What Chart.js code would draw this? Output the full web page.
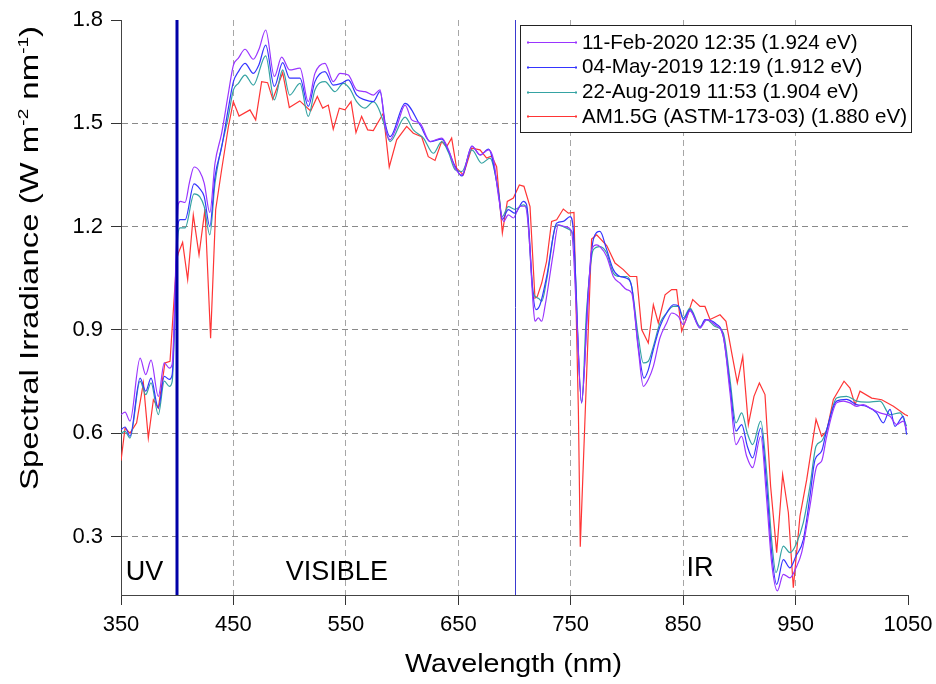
<!DOCTYPE html>
<html>
<head>
<meta charset="utf-8">
<script src="https://cdn.jsdelivr.net/npm/chart.js@4/dist/chart.umd.min.js"></script>
<style>
  html, body { margin: 0; padding: 0; background: #fff; }
  #wrap { width: 936px; height: 684px; }
</style>
</head>
<body>
<div id="wrap"><canvas id="c" width="936" height="684"></canvas></div>
<script>
const seriesLabels = [
  '11-Feb-2020 12:35 (1.924 eV)',
  '04-May-2019 12:19 (1.912 eV)',
  '22-Aug-2019 11:53 (1.904 eV)',
  'AM1.5G (ASTM-173-03) (1.880 eV)'
];
const seriesColors = ['#9a35ff', '#3535ff', '#35a3a3', '#ff3535'];

const xTicks = [350, 450, 550, 650, 750, 850, 950, 1050];
const yTicks = [0.3, 0.6, 0.9, 1.2, 1.5, 1.8];

// 11-Feb-2020
const febNm = [350, 353.6, 358, 367, 372, 376.7, 383.2, 388.5, 393, 395.5, 401, 403, 407, 411, 415, 420, 424, 429, 433.6, 439.5,
  445.5, 450, 454.4, 460.3, 467.7, 472.7, 478.7, 486.4, 492.9, 500, 509.2, 516.6, 522.5, 531.4, 538.8, 544.8, 552.2, 559.6, 567, 574.5,
  580.4, 584.9, 589.3, 595.3, 602.7, 608.6, 616, 624.9, 635.3, 641.3, 647.2, 653.2, 662.1, 669.5, 676.9, 681.4, 685.8, 690.3, 694.5, 699,
  704.9, 709.3, 712.3, 716.7, 718.2, 721.2, 724.2, 727.1, 734.5, 739, 744.9, 750.8, 755.3, 759.7, 764.2, 768.6, 773.1, 776, 782, 787.9,
  793.8, 799.8, 804.2, 810.1, 814.6, 819, 823.5, 829.4, 835.3, 839.8, 845.7, 850.2, 856.1, 865, 871, 878.3, 885.7, 891.7, 897, 902,
  906.5, 911.8, 919, 924.3, 928.7, 933.8, 939.1, 945, 950.4, 955.4, 962.8, 968.8, 973.2, 977.7, 986.5, 992.5, 998.4, 1004.3, 1010.3, 1017.7,
  1025.1, 1034, 1039.9, 1045.8, 1048.8];
const febVal = [0.654, 0.661, 0.635, 0.818, 0.77, 0.812, 0.707, 0.804, 0.789, 0.80, 1.265, 1.273, 1.27, 1.33, 1.373, 1.36, 1.326, 1.241, 1.384, 1.471,
  1.587, 1.669, 1.689, 1.715, 1.686, 1.715, 1.771, 1.636, 1.692, 1.655, 1.66, 1.563, 1.645, 1.674, 1.621, 1.645, 1.64, 1.597, 1.592, 1.582,
  1.597, 1.491, 1.452, 1.491, 1.553, 1.51, 1.5, 1.447, 1.457, 1.423, 1.37, 1.35, 1.433, 1.408, 1.423, 1.394, 1.287, 1.215, 1.234, 1.225,
  1.259, 1.259, 1.2, 0.968, 0.925, 0.935, 0.925, 0.968, 1.123, 1.205, 1.2, 1.186, 0.939, 0.688, 0.91, 1.133, 1.147, 1.142, 1.113, 1.055,
  1.036, 1.017, 1.007, 0.843, 0.736, 0.756, 0.794, 0.877, 0.92, 0.949, 0.939, 0.915, 0.955, 0.906, 0.93, 0.915, 0.881, 0.717, 0.567, 0.591,
  0.533, 0.5, 0.591, 0.407, 0.224, 0.142, 0.19, 0.18, 0.209, 0.253, 0.388, 0.504, 0.519, 0.591, 0.688, 0.693, 0.688, 0.678, 0.683, 0.67,
  0.659, 0.649, 0.625, 0.635, 0.61];

// 04-May-2019
const mayNm = [350, 353.6, 358, 367, 372, 376.7, 383.2, 388.5, 393, 395.5, 400.5, 402.5, 407, 415, 420, 424, 429, 433.6, 439.5, 445.5,
  450, 454.4, 460.3, 467.7, 472.7, 478.7, 486.4, 493.8, 500, 509.2, 516.6, 522.5, 531.4, 538.8, 546, 552.2, 559.6, 567, 574.5, 580.4,
  585, 589.3, 602.7, 616, 624.9, 635.3, 641.3, 647.2, 653.2, 662.1, 669.5, 676.9, 685.8, 689, 694.5, 700.4, 707.9, 710.8, 716.7, 719.1,
  722.7, 728.6, 737.5, 743.4, 749.4, 752.3, 759.7, 765.7, 770.1, 776, 782, 787.9, 793.8, 799.8, 804.2, 810.1, 815.2, 819, 823.5, 829.4,
  835.3, 841.3, 845.7, 850.2, 856.1, 865, 869.4, 878.3, 885.7, 891.7, 897, 902.1, 907.1, 911.8, 919, 924.3, 928.7, 933.2, 939.1, 945,
  950.4, 956.9, 962.8, 967.3, 973.2, 977.7, 986.5, 995.4, 1004.3, 1013.2, 1022.1, 1028, 1034, 1038.4, 1045.8, 1048.8];
const mayVal = [0.61, 0.618, 0.591, 0.76, 0.722, 0.76, 0.673, 0.765, 0.756, 0.77, 1.2, 1.22, 1.22, 1.324, 1.31, 1.287, 1.2, 1.345, 1.43, 1.544,
  1.621, 1.65, 1.674, 1.645, 1.67, 1.727, 1.607, 1.676, 1.631, 1.631, 1.549, 1.621, 1.65, 1.611, 1.616, 1.626, 1.582, 1.568, 1.563, 1.592,
  1.5, 1.461, 1.558, 1.495, 1.447, 1.454, 1.42, 1.375, 1.347, 1.434, 1.408, 1.425, 1.296, 1.22, 1.249, 1.239, 1.273, 1.263, 0.997, 0.959,
  0.973, 1.055, 1.21, 1.215, 1.229, 1.19, 0.688, 1.017, 1.162, 1.186, 1.133, 1.075, 1.055, 1.05, 1.026, 0.852, 0.76, 0.784, 0.843, 0.91,
  0.949, 0.973, 0.97, 0.93, 0.959, 0.906, 0.93, 0.92, 0.881, 0.736, 0.606, 0.625, 0.562, 0.528, 0.615, 0.446, 0.253, 0.161, 0.233, 0.209,
  0.243, 0.291, 0.417, 0.523, 0.548, 0.61, 0.693, 0.698, 0.683, 0.678, 0.659, 0.63, 0.669, 0.62, 0.649, 0.596];

// 22-Aug-2019
const augNm = [350, 353.6, 358, 367, 372, 376.7, 383.2, 388.5, 393, 395.5, 400.5, 402.5, 407, 415, 420, 424, 429, 433.6, 445.5, 450,
  454.4, 460.3, 467.7, 478.7, 486.4, 493.8, 500, 509.2, 516.6, 522.5, 531.4, 540.3, 547.7, 553.6, 559.6, 567, 574.5, 579, 583.3, 589.3,
  602.7, 610, 619, 627.8, 635.3, 641.3, 647.2, 653.2, 662.1, 670.8, 678.2, 685.8, 689, 694.5, 700.4, 707.9, 710.8, 716.7, 721.2, 724.2,
  728.6, 737.5, 743.4, 749.4, 752.3, 759.7, 764, 770.1, 776, 782, 787.9, 793.8, 799.8, 804.2, 810.1, 814.6, 819, 823.5, 829.4, 835.3,
  841.3, 845.7, 850.2, 856.1, 865, 870.9, 878.3, 885.7, 891.7, 897, 902.1, 907.1, 911.8, 919, 924.3, 928.7, 932.6, 939.1, 945, 950.4,
  956.9, 962.8, 968.2, 973.2, 977.7, 986.5, 995.4, 1004.3, 1013.2, 1025.1, 1034, 1042.9, 1048.8];
const augVal = [0.6, 0.605, 0.586, 0.751, 0.712, 0.746, 0.654, 0.751, 0.736, 0.75, 1.17, 1.196, 1.196, 1.295, 1.287, 1.258, 1.176, 1.326, 1.52, 1.597,
  1.616, 1.64, 1.611, 1.696, 1.568, 1.655, 1.582, 1.616, 1.52, 1.597, 1.621, 1.592, 1.616, 1.6, 1.563, 1.544, 1.563, 1.544, 1.505, 1.447,
  1.518, 1.481, 1.457, 1.413, 1.447, 1.415, 1.365, 1.36, 1.423, 1.384, 1.399, 1.3, 1.229, 1.258, 1.25, 1.263, 1.254, 1.007, 0.992, 0.983,
  1.045, 1.205, 1.2, 1.19, 1.17, 0.688, 0.95, 1.133, 1.142, 1.123, 1.065, 1.055, 1.055, 1.026, 0.881, 0.804, 0.809, 0.852, 0.92, 0.949,
  0.968, 0.968, 0.935, 0.963, 0.91, 0.93, 0.91, 0.891, 0.755, 0.63, 0.659, 0.6, 0.567, 0.635, 0.485, 0.291, 0.195, 0.272, 0.253, 0.277,
  0.34, 0.446, 0.562, 0.577, 0.61, 0.702, 0.707, 0.693, 0.69, 0.693, 0.654, 0.659, 0.62];

// AM1.5G reference spectrum
const astmNm = [350, 353.6, 358, 363.9, 369.9, 374.3, 378.8, 383.2, 389.1, 393.6, 399.5, 401, 404.8, 409.3, 414.3, 419.4, 424.7, 429.7, 434.2, 439.5,
  445.5, 449.9, 455, 464.7, 469.8, 475.1, 480.4, 485, 493.8, 499.7, 509, 518.7, 524.6, 529.4, 534.4, 538.8, 544.2, 549.2, 554.6, 559,
  564, 569.4, 574.4, 583.3, 588.6, 595.2, 604.1, 610, 617.4, 623.3, 629.3, 635.2, 639.6, 644.1, 648.5, 654.5, 661.9, 669.3, 675.2, 679.7,
  684.1, 689.2, 693.6, 699, 704.3, 708.4, 713.8, 718.2, 720.3, 724.2, 728.6, 733, 737.5, 743.4, 747.9, 752.9, 756.8, 758.5, 768.6, 773.1,
  782, 789.4, 796.8, 802.7, 808.7, 813.1, 819, 823.5, 827.9, 833.9, 839.8, 844.2, 848.7, 853.1, 858.5, 865, 869.4, 873.9, 882.8, 888.1,
  893.2, 898.2, 903, 908, 913, 917.8, 922.8, 927.8, 933.2, 938.5, 943.6, 948, 953.9, 959.9, 968.2, 973.2, 977.7, 983.6, 993.1, 998.4,
  1002.9, 1007.3, 1017.7, 1026.6, 1037, 1047.3, 1050];
const astmVal = [0.52, 0.615, 0.6, 0.63, 0.746, 0.586, 0.697, 0.673, 0.804, 0.809, 1.104, 1.123, 1.154, 1.046, 1.234, 1.118, 1.251, 0.876, 1.249, 1.365,
  1.49, 1.563, 1.521, 1.539, 1.51, 1.621, 1.618, 1.57, 1.647, 1.546, 1.565, 1.536, 1.578, 1.544, 1.553, 1.483, 1.544, 1.539, 1.563, 1.473,
  1.52, 1.481, 1.479, 1.529, 1.373, 1.452, 1.491, 1.471, 1.461, 1.403, 1.392, 1.447, 1.432, 1.457, 1.37, 1.35, 1.428, 1.423, 1.399, 1.405,
  1.374, 1.181, 1.273, 1.283, 1.321, 1.317, 1.258, 0.992, 0.997, 1.036, 1.1, 1.215, 1.22, 1.251, 1.239, 1.241, 0.669, 0.27, 1.164, 1.176,
  1.145, 1.094, 1.075, 1.055, 1.055, 0.901, 0.862, 0.973, 0.92, 1.002, 1.017, 1.017, 0.896, 0.935, 0.988, 0.968, 0.968, 0.93, 0.944, 0.925,
  0.833, 0.746, 0.823, 0.625, 0.707, 0.746, 0.712, 0.446, 0.253, 0.48, 0.369, 0.151, 0.359, 0.465, 0.64, 0.591, 0.606, 0.698, 0.751, 0.731,
  0.683, 0.722, 0.702, 0.697, 0.678, 0.654, 0.65];

const regionLines = [400, 700];
const regionLabels = [{ text: 'UV', nm: 371 }, { text: 'VISIBLE', nm: 542 }, { text: 'IR', nm: 865 }];

const toPoints = (xs, ys) => xs.map((x, i) => ({ x: x, y: ys[i] }));
const allNm = [febNm, mayNm, augNm, astmNm];
const allVal = [febVal, mayVal, augVal, astmVal];

const datasets = seriesLabels.map((label, i) => ({
  label: label,
  data: toPoints(allNm[i], allVal[i]),
  borderColor: seriesColors[i],
  backgroundColor: seriesColors[i],
  borderWidth: 1.2,
  pointRadius: 0,
  fill: false,
  cubicInterpolationMode: i < 3 ? 'monotone' : 'default',
  tension: 0
}));

const FONT = '"Liberation Sans", Arial, sans-serif';

// draw text stretched along its direction so it spans a given length
function stretchedText(ctx, parts, cx, cy, len, rotate) {
  let total = 0;
  parts.forEach(p => { ctx.font = p.font; p.w = ctx.measureText(p.t).width; total += p.w; });
  ctx.save();
  ctx.translate(cx, cy);
  if (rotate) ctx.rotate(-Math.PI / 2);
  ctx.scale(len / total, 1);
  ctx.textAlign = 'left';
  ctx.textBaseline = 'alphabetic';
  let x = -total / 2;
  parts.forEach(p => {
    ctx.font = p.font;
    ctx.fillText(p.t, x, p.dy || 0);
    x += p.w;
  });
  ctx.restore();
}

const decorations = {
  id: 'decorations',
  afterDatasetsDraw(chart) {
    const ctx = chart.ctx;
    const xs = chart.scales.x;
    const area = chart.chartArea;
    ctx.save();
    // region separators
    regionLines.forEach((nm, i) => {
      const px = Math.round(xs.getPixelForValue(nm)) + (i === 0 ? 0 : 0.5);
      ctx.beginPath();
      ctx.strokeStyle = i === 0 ? '#0000a8' : '#3a3ad0';
      ctx.lineWidth = i === 0 ? 3 : 1;
      ctx.moveTo(px, area.top);
      ctx.lineTo(px, area.bottom);
      ctx.stroke();
    });
    // region labels
    ctx.fillStyle = '#000';
    ctx.font = '27px ' + FONT;
    ctx.textAlign = 'center';
    ctx.textBaseline = 'alphabetic';
    regionLabels.forEach(r => {
      ctx.fillText(r.text, xs.getPixelForValue(r.nm), r.text === 'IR' ? 576 : 580);
    });

    // legend
    const lx = 520, ly = 25, lw = 391, lh = 107;
    ctx.fillStyle = '#fff';
    ctx.fillRect(lx, ly, lw, lh);
    ctx.strokeStyle = '#222';
    ctx.lineWidth = 1;
    ctx.strokeRect(lx + 0.5, ly + 0.5, lw, lh);
    ctx.font = '20.6px ' + FONT;
    ctx.textAlign = 'left';
    ctx.textBaseline = 'middle';
    chart.data.datasets.forEach((ds, i) => {
      const cy = 42 + i * 24.8;
      ctx.strokeStyle = ds.borderColor;
      ctx.lineWidth = 1.2;
      ctx.beginPath();
      ctx.moveTo(528, Math.round(cy) + 0.5);
      ctx.lineTo(576, Math.round(cy) + 0.5);
      ctx.stroke();
      ctx.fillStyle = ds.borderColor;
      ctx.fillRect(527, Math.round(cy) - 0.5, 2, 2);
      ctx.fillRect(575, Math.round(cy) - 0.5, 2, 2);
      ctx.fillStyle = '#000';
      ctx.fillText(ds.label, 582, cy + 1);
    });

    // axis titles
    ctx.fillStyle = '#000';
    const big = '26px ' + FONT, small = '15px ' + FONT;
    stretchedText(ctx, [{ t: 'Wavelength (nm)', font: big }], (area.left + area.right) / 2 - 1, 672, 217, false);
    stretchedText(ctx, [
      { t: 'Spectral Irradiance (W m', font: big },
      { t: '-2', font: small, dy: -10 },
      { t: ' nm', font: big },
      { t: '-1', font: small, dy: -10 },
      { t: ')', font: big }
    ], 38, 258, 464, true);
    ctx.restore();
  }
};

new Chart(document.getElementById('c'), {
  type: 'line',
  data: { datasets: datasets },
  options: {
    responsive: false,
    animation: false,
    layout: { padding: { top: 20, right: 28, left: 0, bottom: 0 } },
    plugins: { legend: { display: false }, tooltip: { enabled: false } },
    scales: {
      x: {
        type: 'linear',
        min: 350,
        max: 1050,
        afterBuildTicks: s => { s.ticks = xTicks.map(v => ({ value: v })); },
        afterFit: s => { s.height = 89; s.paddingLeft = 0; s.paddingRight = 0; },
        grid: {
          color: c => (c.tick && (c.tick.value === 350 || c.tick.value === 1050)) ? 'rgba(0,0,0,0)' : '#a6a6a6',
          lineWidth: 1,
          tickLength: 10,
          tickColor: '#333',
          tickBorderDash: []
        },
        border: { display: true, color: '#444', width: 1, dash: [6, 4] },
        ticks: {
          color: '#000',
          font: { family: FONT, size: 22 },
          padding: 7,
          maxRotation: 0,
          callback: v => String(v)
        }
      },
      y: {
        type: 'linear',
        min: 0.13,
        max: 1.8,
        afterBuildTicks: s => { s.ticks = yTicks.map(v => ({ value: v })); },
        afterFit: s => { s.width = 121; s.paddingTop = 0; s.paddingBottom = 0; },
        grid: {
          color: c => (c.tick && c.tick.value === 1.8) ? 'rgba(0,0,0,0)' : '#8a8a8a',
          lineWidth: 1,
          tickLength: 10,
          tickColor: '#333',
          tickBorderDash: []
        },
        border: { display: true, color: '#444', width: 1, dash: [6, 4] },
        ticks: {
          color: '#000',
          font: { family: FONT, size: 22 },
          padding: 8,
          callback: v => v.toFixed(1)
        }
      }
    }
  },
  plugins: [decorations]
});
</script>
</body>
</html>
